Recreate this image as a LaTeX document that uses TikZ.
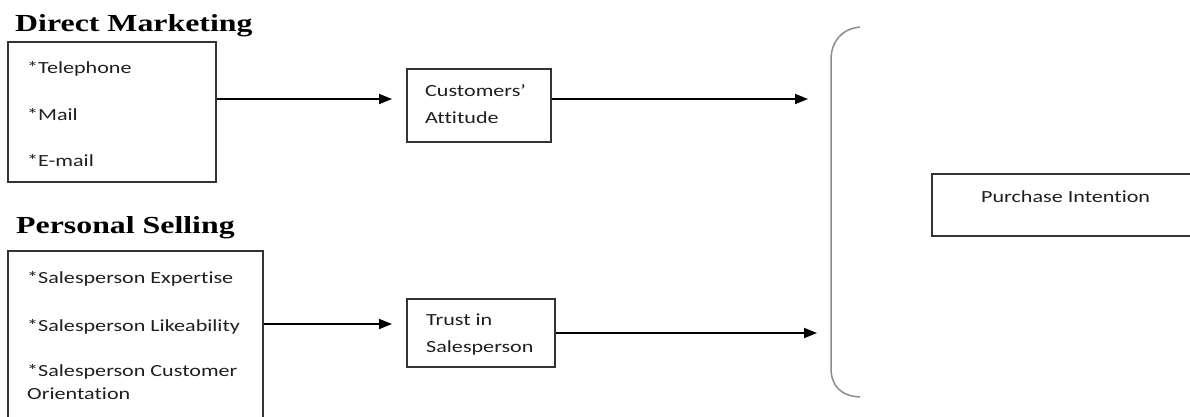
\documentclass[tikz,border=0pt]{standalone}
\usepackage{fontspec}
\setmainfont{Carlito}[FakeStretch=1.3,Ligatures=NoCommon]
\newfontfamily\titlefont{Liberation Serif}[FakeStretch=1.3]
\usetikzlibrary{arrows.meta}
\begin{document}
\begin{tikzpicture}[x=1pt,y=-1pt,
  box/.style={draw=black!80,line width=1.5pt,inner sep=0pt},
  item/.style={anchor=base west,inner sep=0pt,text=black!88,font=\fontsize{17}{20}\selectfont},
  ttl/.style={anchor=base west,inner sep=0pt,font=\titlefont\bfseries\fontsize{24.5}{28}\selectfont},
  arr/.style={line width=1.8pt,-{Triangle[length=13pt,width=10pt]}},
  brk/.style={draw=black!45,line width=1.5pt}]
\clip (0,0) rectangle (1190,416);
% titles
\node[ttl] (t1lbl) at (15,31) {Direct Marketing};
\node[ttl] (t2lbl) at (16,233) {Personal Selling};
% box 1
\node[box,minimum width=208pt,minimum height=140pt] (dm) at (112,112) {};
\node[item] (i1) at (27,73) {*Telephone};
\node[item] (i2) at (27,120) {*Mail};
\node[item] (i3) at (27,166) {*E-mail};
% box 2
\node[box,minimum width=255pt,minimum height=180pt] (ps) at (135.5,341) {};
\node[item] (j1) at (27,283) {*Salesperson Expertise};
\node[item] (j2) at (27,331) {*Salesperson Likeability};
\node[item] (j3) at (27,376) {*Salesperson Customer};
\node[item] (j4) at (27,399) {Orientation};
% middle boxes
\node[box,minimum width=144pt,minimum height=73pt] (ca) at (479,105.5) {};
\node[item] (c1) at (425,96) {Customers’};
\node[item] (c2) at (425,123) {Attitude};
\node[box,minimum width=148pt,minimum height=68pt] (tr) at (481,333) {};
\node[item] (r1) at (426,325) {Trust in};
\node[item] (r2) at (426,352) {Salesperson};
% purchase intention
\node[box,minimum width=330pt,minimum height=62pt] (pi) at (1097,205) {};
\node[item] (p1) at (981,202) {Purchase Intention};
% bracket
\draw[brk] (860,27) .. controls (841,29) and (831,42) .. (831,60) -- (831,368) .. controls (831,386) and (841,396) .. (860,397);
% arrows
\coordinate (e1) at (392,99);
\coordinate (e2) at (808,99);
\coordinate (e3) at (392,324);
\coordinate (e4) at (817,333);
\draw[arr] (dm.east |- e1) -- (e1);
\draw[arr] (ca.east |- e2) -- (e2);
\draw[arr] (ps.east |- e3) -- (e3);
\draw[arr] (tr.east |- e4) -- (e4);
\end{tikzpicture}
\end{document}
